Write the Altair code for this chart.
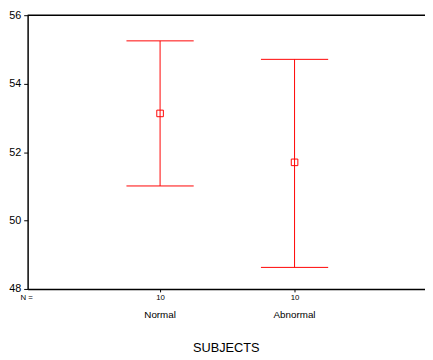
import altair as alt
import pandas as pd

groups = ["Normal", "Abnormal"]
n_counts = [10, 10]
means = [53.13, 51.70]
lower = [51.01, 48.63]
upper = [55.25, 54.71]
positions = [1, 2]

W, H = 405, 279
RED = "#ff0000"
FONT = "Liberation Sans"

df = pd.DataFrame({"group": groups, "n": n_counts, "mean": means,
                   "lo": lower, "hi": upper, "pos": positions})
df["capL"] = df["pos"] - 0.25
df["capR"] = df["pos"] + 0.25

xscale = alt.Scale(domain=[0.015, 2.97], nice=False)
yscale = alt.Scale(domain=[48, 56], nice=False, zero=False)

label_expr = " : ".join(
    [f"datum.value == {p} ? '{c}'" for p, c in zip(positions[:-1], n_counts[:-1])]
    + [f"'{n_counts[-1]}'"])

base = alt.Chart(df)

vline = base.mark_rule(color=RED, strokeWidth=1).encode(
    x=alt.X("pos:Q", scale=xscale,
            axis=alt.Axis(values=positions, labelExpr=label_expr, title=None,
                          grid=False, domainColor="black", domainWidth=1.5,
                          tickColor="black", tickSize=3, labelFontSize=8,
                          labelFont=FONT, labelColor="black", labelPadding=2)),
    y=alt.Y("lo:Q", scale=yscale,
            axis=alt.Axis(values=[48, 50, 52, 54, 56], title=None, grid=False,
                          domainColor="black", domainWidth=1.5, tickColor="black",
                          tickSize=4, labelFontSize=11, labelFont=FONT,
                          labelColor="black", labelPadding=3)),
    y2="hi:Q",
)
cap_hi = base.mark_rule(color=RED, strokeWidth=1).encode(
    x="capL:Q", x2="capR:Q", y="hi:Q")
cap_lo = base.mark_rule(color=RED, strokeWidth=1).encode(
    x="capL:Q", x2="capR:Q", y="lo:Q")
pts = base.mark_point(shape="square", filled=False, color=RED, size=45,
                      strokeWidth=1, opacity=1).encode(x="pos:Q", y="mean:Q")

top = alt.Chart(pd.DataFrame({"v": [56]})).mark_rule(color="black", strokeWidth=1.5).encode(
    y="v:Q", x=alt.value(0), x2=alt.value(W))

cats = base.mark_text(font=FONT, fontSize=10, color="black", baseline="middle").encode(
    x="pos:Q", y=alt.value(H + 27), text="group:N")

nlab = alt.Chart(pd.DataFrame({"t": ["N ="]})).mark_text(
    font=FONT, fontSize=8, color="black", baseline="middle", align="center").encode(
    x=alt.value(-1), y=alt.value(H + 9), text="t:N")

title = alt.Chart(pd.DataFrame({"t": ["SUBJECTS"]})).mark_text(
    font=FONT, fontSize=13, color="black", baseline="middle", align="center").encode(
    x=alt.value(W / 2), y=alt.value(H + 60), text="t:N")

chart = alt.layer(vline, cap_hi, cap_lo, pts, top, cats, nlab, title).properties(
    width=W, height=H,
    autosize=alt.AutoSizeParams(type="none"),
    padding={"left": 20, "top": 4, "right": 0, "bottom": 66},
).configure_view(stroke=None)

chart.save("out.html", embed_options={"renderer": "svg", "actions": False})
